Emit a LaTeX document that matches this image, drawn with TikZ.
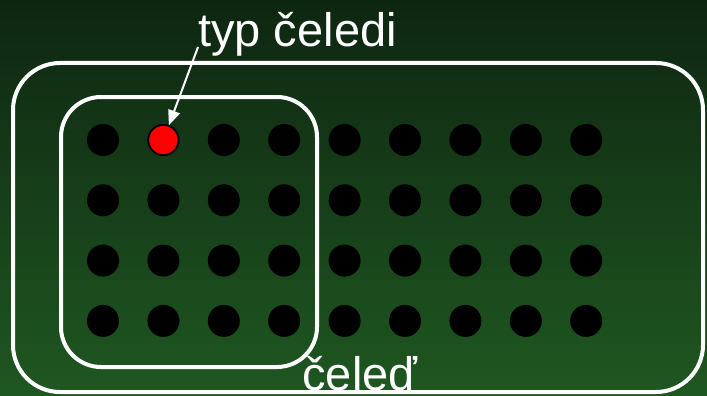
\documentclass[tikz,border=0pt]{standalone}
\usepackage{fontspec}
\setmainfont{Liberation Sans}
\usetikzlibrary{arrows.meta}
\definecolor{bgtop}{HTML}{0E2611}
\definecolor{bgbot}{HTML}{1F5721}
\tikzset{
  dot/.style={circle,fill=black,inner sep=0pt,minimum size=32pt},
  typdot/.style={circle,fill=red,draw=black,line width=1.5pt,inner sep=0pt,minimum size=30pt},
  label/.style={white,inner sep=0pt,anchor=base,font=\fontsize{47}{50}\selectfont},
  frame/.style={white,line width=4pt}
}
\begin{document}
\begin{tikzpicture}[x=1pt,y=-1pt]
  \shade[top color=bgtop,bottom color=bgbot] (0,0) rectangle (707,396);
  \useasboundingbox (0,0) rectangle (707,396);
  \draw[frame,rounded corners=47pt] (13,63) rectangle (703,392);
  \draw[frame,rounded corners=40pt] (61,97) rectangle (317,367);
  \foreach \i in {0,...,8}
    \foreach \j in {0,...,3}
      \node[dot] (d\i\j) at ({103+60.4*\i},{140+60.3*\j}) {};
  \node[typdot] (typ) at (d10) {};
  \node[label] (typlabel) at (297.5,47) {typ čeledi};
  \node[label] (celed) at (360,390) {čeleď};
  \draw[white,line width=2pt,-{Triangle[length=15pt,width=12pt]}] (typlabel.base west) -- (typ);
\end{tikzpicture}
\end{document}
